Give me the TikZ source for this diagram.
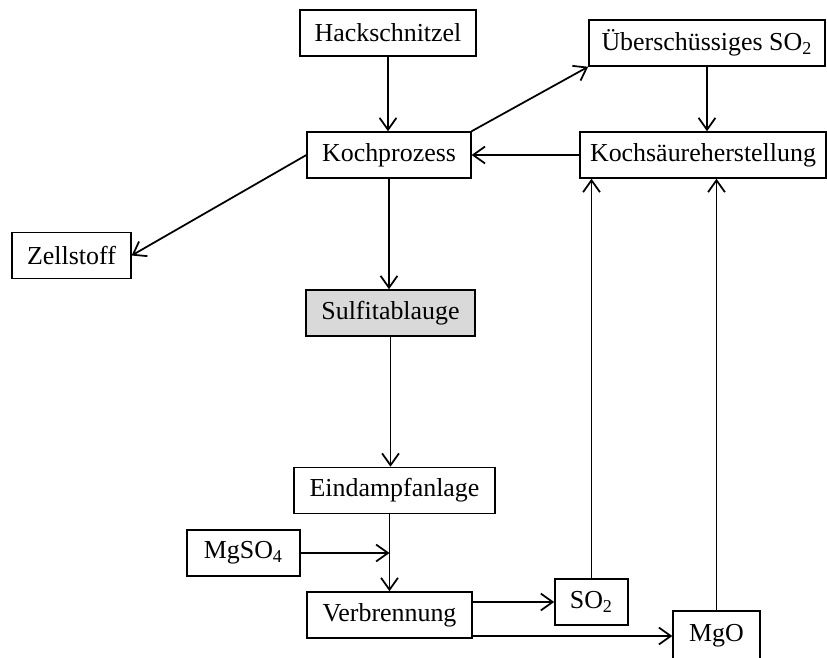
\documentclass[tikz,border=0pt]{standalone}
\usepackage{fontspec}
\setmainfont{Liberation Serif}
\usetikzlibrary{arrows.meta}

\begin{document}
\begin{tikzpicture}%
        [x=0.016cm, y=-0.016cm,
        box/.style={draw, line width=0.7pt, inner sep=0pt, minimum height=0.736cm, font=\fontsize{11.8}{13}\selectfont},
        flow/.style={line width=0.8pt, -{Straight Barb[length=1.9mm, width=2.7mm, line width=0.8pt]}}]
    %
    %% Drawing the boxes
    \useasboundingbox (0,0) rectangle (827,657);
    \node[box, minimum width=2.82cm] (hack) at (388,33) {Hackschnitzel};
    \node[box, minimum width=3.78cm] (ueber) at (707,43) {Überschüssiges SO\textsubscript{2}};
    \node[box, minimum width=2.62cm] (koch) at (389,155) {Kochprozess};
    \node[box, minimum width=3.94cm] (kochs) at (703,155) {Kochsäureherstellung};
    \node[box, minimum width=1.90cm] (zell) at (71.5,255.5) {Zellstoff};
    \node[box, minimum width=2.70cm, fill=black!15] (sulfit) at (390.5,313) {Sulfitablauge};
    \node[box, minimum width=3.22cm] (eind) at (394.5,490.5) {Eindampfanlage};
    \node[box, minimum width=1.81cm] (mgso) at (243.5,553) {MgSO\textsubscript{4}};
    \node[box, minimum width=2.64cm] (verb) at (389.5,615) {Verbrennung};
    \node[box, minimum width=1.17cm] (so) at (591.5,602) {SO\textsubscript{2}};
    \node[box, minimum width=1.39cm, minimum height=0.80cm] (mgo) at (716.5,636) {MgO};
    %%
    %% Drawing the flows
    \draw[flow] (hack.south) -- (hack.south |- koch.north);
    \draw[flow] (koch.north east) -- (ueber.south west);
    \draw[flow] (ueber.south) -- (ueber.south |- kochs.north);
    \draw[flow] (kochs.west) -- (koch.east);
    \draw[flow] (koch.west) -- (zell.east);
    \draw[flow] (koch.south) -- (koch.south |- sulfit.north);
    \draw[flow] (sulfit.south) -- (sulfit.south |- eind.north);
    \draw[flow] (verb.north |- eind.south) -- (verb.north);
    \draw[flow] (mgso.east) -- (verb.north |- mgso.east);
    \draw[flow] (so.west -| verb.east) -- (so.west);
    \draw[flow] (mgo.west -| verb.east) -- (mgo.west);
    \draw[flow] (so.north) -- (so.north |- kochs.south);
    \draw[flow] (mgo.north) -- (mgo.north |- kochs.south);
    %%
    \end{tikzpicture}
\end{document}
